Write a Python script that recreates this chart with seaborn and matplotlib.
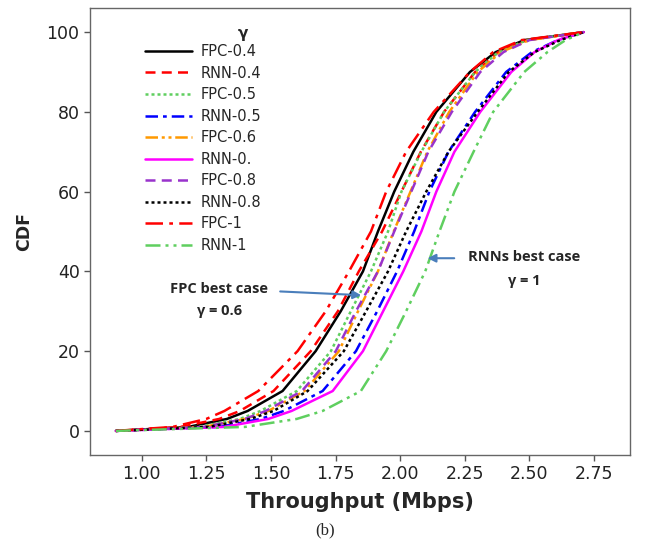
import numpy as np
import pandas as pd
import matplotlib
matplotlib.use("Agg")
import matplotlib.pyplot as plt
import seaborn as sns

# CDF levels (%) and the throughput (Mbps) at which each series reaches them
cdf_levels = [0, 1, 3, 5, 10, 20, 30, 40, 50, 60, 70, 80, 90, 95, 98, 100]

fpc_04 = [0.90, 1.18, 1.33, 1.41, 1.545, 1.673, 1.770, 1.856, 1.914, 1.977, 2.051, 2.140, 2.270, 2.370, 2.480, 2.71]
rnn_04 = [0.90, 1.15, 1.30, 1.38, 1.510, 1.654, 1.759, 1.840, 1.930, 2.005, 2.080, 2.170, 2.290, 2.380, 2.490, 2.71]
fpc_05 = [0.90, 1.22, 1.38, 1.46, 1.600, 1.732, 1.809, 1.887, 1.953, 2.005, 2.082, 2.170, 2.290, 2.380, 2.490, 2.71]
rnn_05 = [0.90, 1.30, 1.46, 1.55, 1.700, 1.829, 1.911, 1.988, 2.054, 2.113, 2.187, 2.290, 2.410, 2.510, 2.610, 2.71]
fpc_06 = [0.90, 1.24, 1.40, 1.49, 1.630, 1.763, 1.837, 1.914, 1.975, 2.040, 2.105, 2.190, 2.300, 2.390, 2.500, 2.71]
rnn_06 = [0.90, 1.32, 1.49, 1.58, 1.739, 1.856, 1.934, 2.012, 2.082, 2.140, 2.210, 2.310, 2.430, 2.520, 2.610, 2.71]
fpc_08 = [0.90, 1.24, 1.40, 1.48, 1.620, 1.751, 1.829, 1.914, 1.977, 2.043, 2.109, 2.200, 2.310, 2.400, 2.500, 2.71]
rnn_08 = [0.90, 1.26, 1.42, 1.51, 1.642, 1.782, 1.868, 1.953, 2.023, 2.101, 2.187, 2.300, 2.420, 2.520, 2.620, 2.71]
fpc_1 = [0.90, 1.12, 1.25, 1.32, 1.451, 1.603, 1.712, 1.802, 1.887, 1.946, 2.023, 2.130, 2.270, 2.360, 2.470, 2.71]
rnn_1 = [0.90, 1.40, 1.60, 1.70, 1.848, 1.946, 2.023, 2.097, 2.152, 2.210, 2.284, 2.360, 2.480, 2.570, 2.640, 2.71]

series_names = ["FPC-0.4", "RNN-0.4", "FPC-0.5", "RNN-0.5", "FPC-0.6",
                "RNN-0.", "FPC-0.8", "RNN-0.8", "FPC-1", "RNN-1"]
series_values = [fpc_04, rnn_04, fpc_05, rnn_05, fpc_06,
                 rnn_06, fpc_08, rnn_08, fpc_1, rnn_1]

x_ticks = [1.00, 1.25, 1.50, 1.75, 2.00, 2.25, 2.50, 2.75]
y_ticks = [0, 20, 40, 60, 80, 100]

styles = {
    "FPC-0.4": dict(color="#000000", linestyle="-"),
    "RNN-0.4": dict(color="#ff0000", linestyle=(0, (4, 2.5))),
    "FPC-0.5": dict(color="#5fcf5f", linestyle=(0, (1.2, 1.2))),
    "RNN-0.5": dict(color="#0000ff", linestyle=(0, (5, 2, 1.5, 2))),
    "FPC-0.6": dict(color="#ff9900", linestyle=(0, (5, 1.5, 1.2, 1.5, 1.2, 1.5))),
    "RNN-0.": dict(color="#ff00ff", linestyle="-"),
    "FPC-0.8": dict(color="#9933cc", linestyle=(0, (4, 2.5))),
    "RNN-0.8": dict(color="#000000", linestyle=(0, (1.2, 1.2))),
    "FPC-1": dict(color="#ff0000", linestyle=(0, (7, 2.5, 1.5, 2.5))),
    "RNN-1": dict(color="#5fcf5f", linestyle=(0, (6, 2, 1.2, 2, 1.2, 2))),
}

rows = []
for name, vals in zip(series_names, series_values):
    for p, x in zip(cdf_levels, vals):
        rows.append({"series": name, "throughput": x, "cdf": p})
df = pd.DataFrame(rows)

sns.set_theme(style="ticks")
plt.rcParams["font.family"] = ["DejaVu Sans"]

fig = plt.figure(figsize=(6.5, 5.46), dpi=100)
ax = fig.add_axes([0.1385, 0.167, 0.831, 0.818])

for name in series_names:
    sub = df[df["series"] == name]
    sns.lineplot(data=sub, x="throughput", y="cdf", ax=ax, sort=False,
                 estimator=None, linewidth=1.8, label=name, **styles[name])

ax.set_xlim(0.80, 2.89)
ax.set_ylim(-6, 106)
ax.set_xticks(x_ticks)
ax.set_xticklabels([f"{t:.2f}" for t in x_ticks])
ax.set_yticks(y_ticks)
ax.tick_params(axis="both", labelsize=12.5, length=4, width=1, color="#555555",
               labelcolor="#222222", direction="out")
for s in ax.spines.values():
    s.set_visible(True)
    s.set_color("#666666")
    s.set_linewidth(1.0)

ax.set_xlabel("Throughput (Mbps)", fontsize=15, fontweight="bold", labelpad=6)
ax.set_ylabel("CDF", fontsize=12.5, fontweight="bold", labelpad=10)

leg = ax.legend(loc="upper left", bbox_to_anchor=(0.091, 0.933), frameon=False,
                fontsize=10.5, handlelength=3.2, handletextpad=0.6,
                labelspacing=0.45, borderaxespad=0)
ax.text(0.283, 0.944, "γ", transform=ax.transAxes, fontsize=11,
        fontweight="bold", ha="center", va="center")

arrow_color = "#4a7ebb"
ax.annotate("", xy=(1.86, 34.0), xytext=(1.525, 35.0),
            arrowprops=dict(arrowstyle="-|>", color=arrow_color, lw=1.5,
                            mutation_scale=12))
ax.text(1.30, 35.5, "FPC best case", fontsize=10.5, fontweight="bold",
        ha="center", va="center", family="Open Sans")
ax.text(1.30, 30.0, "γ = 0.6", fontsize=10.5, fontweight="bold",
        ha="center", va="center", family="Open Sans")
ax.annotate("", xy=(2.095, 43.3), xytext=(2.22, 43.3),
            arrowprops=dict(arrowstyle="-|>", color=arrow_color, lw=1.5,
                            mutation_scale=12))
ax.text(2.48, 43.5, "RNNs best case", fontsize=10.5, fontweight="bold",
        ha="center", va="center", family="Open Sans")
ax.text(2.48, 37.7, "γ = 1", fontsize=10.5, fontweight="bold",
        ha="center", va="center", family="Open Sans")

fig.text(0.5, 0.029, "(b)", fontsize=12, ha="center", va="center",
         family="Liberation Serif")

fig.savefig("out.png", dpi=100)
